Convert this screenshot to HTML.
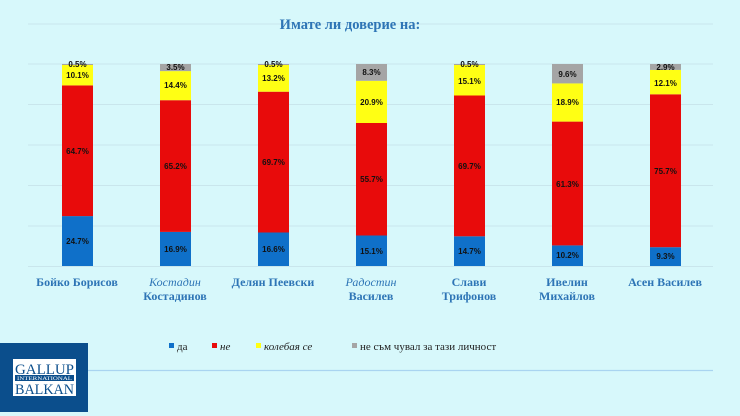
<!DOCTYPE html>
<html><head><meta charset="utf-8"><style>
body{margin:0;width:740px;height:416px;background:#d7f8fb;overflow:hidden;position:relative;font-family:"Liberation Sans",sans-serif}
</style></head><body>
<svg width="740" height="416" style="position:absolute;left:0;top:0">
<g stroke="#c9e6ec" stroke-width="1">
<line x1="28" y1="24" x2="713" y2="24"/><line x1="28" y1="64" x2="713" y2="64"/><line x1="28" y1="104.5" x2="713" y2="104.5"/><line x1="28" y1="145" x2="713" y2="145"/><line x1="28" y1="185.5" x2="713" y2="185.5"/><line x1="28" y1="226" x2="713" y2="226"/><line x1="28" y1="266.5" x2="713" y2="266.5"/>
</g>
<text x="350" y="29" text-anchor="middle" font-family="Liberation Serif,serif" font-weight="bold" font-size="14.5" fill="#2e75b6">Имате  ли доверие на:</text>
<g>
<rect x="62" y="216.1" width="31" height="49.9" fill="#0f70c9"/><rect x="62" y="85.4" width="31" height="130.7" fill="#e80b0b"/><rect x="62" y="65" width="31" height="20.4" fill="#ffff14"/><rect x="62" y="64" width="31" height="1" fill="#a5a5a5"/>
<rect x="160" y="231.9" width="31" height="34.1" fill="#0f70c9"/><rect x="160" y="100.2" width="31" height="131.7" fill="#e80b0b"/><rect x="160" y="71.1" width="31" height="29.1" fill="#ffff14"/><rect x="160" y="64" width="31" height="7.1" fill="#a5a5a5"/>
<rect x="258" y="232.5" width="31" height="33.5" fill="#0f70c9"/><rect x="258" y="91.7" width="31" height="140.8" fill="#e80b0b"/><rect x="258" y="65" width="31" height="26.7" fill="#ffff14"/><rect x="258" y="64" width="31" height="1" fill="#a5a5a5"/>
<rect x="356" y="235.5" width="31" height="30.5" fill="#0f70c9"/><rect x="356" y="123" width="31" height="112.5" fill="#e80b0b"/><rect x="356" y="80.8" width="31" height="42.2" fill="#ffff14"/><rect x="356" y="64" width="31" height="16.8" fill="#a5a5a5"/>
<rect x="454" y="236.3" width="31" height="29.7" fill="#0f70c9"/><rect x="454" y="95.5" width="31" height="140.8" fill="#e80b0b"/><rect x="454" y="65" width="31" height="30.5" fill="#ffff14"/><rect x="454" y="64" width="31" height="1" fill="#a5a5a5"/>
<rect x="552" y="245.4" width="31" height="20.6" fill="#0f70c9"/><rect x="552" y="121.6" width="31" height="123.8" fill="#e80b0b"/><rect x="552" y="83.4" width="31" height="38.2" fill="#ffff14"/><rect x="552" y="64" width="31" height="19.4" fill="#a5a5a5"/>
<rect x="650" y="247.2" width="31" height="18.8" fill="#0f70c9"/><rect x="650" y="94.3" width="31" height="152.9" fill="#e80b0b"/><rect x="650" y="69.9" width="31" height="24.4" fill="#ffff14"/><rect x="650" y="64" width="31" height="5.9" fill="#a5a5a5"/>
</g>
<g font-size="8" font-weight="bold" fill="#111" text-anchor="middle">
<text x="77.5" y="244">24.7%</text><text x="77.5" y="154">64.7%</text><text x="77.5" y="78">10.1%</text><text x="77.5" y="67">0.5%</text>
<text x="175.5" y="252">16.9%</text><text x="175.5" y="169">65.2%</text><text x="175.5" y="88">14.4%</text><text x="175.5" y="70">3.5%</text>
<text x="273.5" y="252">16.6%</text><text x="273.5" y="165">69.7%</text><text x="273.5" y="81">13.2%</text><text x="273.5" y="67">0.5%</text>
<text x="371.5" y="254">15.1%</text><text x="371.5" y="182">55.7%</text><text x="371.5" y="105">20.9%</text><text x="371.5" y="75">8.3%</text>
<text x="469.5" y="254">14.7%</text><text x="469.5" y="169">69.7%</text><text x="469.5" y="84">15.1%</text><text x="469.5" y="67">0.5%</text>
<text x="567.5" y="258">10.2%</text><text x="567.5" y="187">61.3%</text><text x="567.5" y="105">18.9%</text><text x="567.5" y="77">9.6%</text>
<text x="665.5" y="259">9.3%</text><text x="665.5" y="174">75.7%</text><text x="665.5" y="86">12.1%</text><text x="665.5" y="70">2.9%</text>
</g>
<g font-family="Liberation Serif,serif" font-weight="bold" font-size="12" fill="#2e75b6" text-anchor="middle">
<text x="77" y="286">Бойко Борисов</text>
<text x="175" y="286" font-style="italic" font-weight="normal">Костадин</text><text x="175" y="300">Костадинов</text>
<text x="273" y="286">Делян Пеевски</text>
<text x="371" y="286" font-style="italic" font-weight="normal">Радостин</text><text x="371" y="300">Василев</text>
<text x="469" y="286">Слави</text><text x="469" y="300">Трифонов</text>
<text x="567" y="286">Ивелин</text><text x="567" y="300">Михайлов</text>
<text x="665" y="286">Асен Василев</text>
</g>
<g font-family="Liberation Serif,serif" font-size="11" fill="#222">
<rect x="169" y="343" width="5" height="5" fill="#0f70c9"/><text x="177" y="350">да</text>
<rect x="212" y="343" width="5" height="5" fill="#e80b0b"/><text x="220" y="350" font-style="italic">не</text>
<rect x="256" y="343" width="5" height="5" fill="#ffff14"/><text x="264" y="350" font-style="italic">колебая се</text>
<rect x="352" y="343" width="5" height="5" fill="#a5a5a5"/><text x="360" y="350">не съм чувал за тази личност</text>
</g>
<line x1="88" y1="370.5" x2="713" y2="370.5" stroke="#a9d4f0" stroke-width="1.2"/>
<rect x="0" y="343" width="88" height="69" fill="#0b4e8c"/>
<rect x="13" y="359" width="63" height="37" fill="#fff"/>
<g font-family="Liberation Serif,serif" fill="#0b4e8c" text-anchor="middle">
<text x="44.5" y="374" font-size="15" textLength="59" lengthAdjust="spacingAndGlyphs">GALLUP</text>
<rect x="15" y="375" width="59" height="6" fill="#0b4e8c"/>
<text x="44.5" y="380" font-size="5" fill="#fff" textLength="55" lengthAdjust="spacingAndGlyphs">INTERNATIONAL</text>
<text x="44.5" y="394" font-size="15" textLength="59" lengthAdjust="spacingAndGlyphs">BALKAN</text>
</g>
</svg>
</body></html>
